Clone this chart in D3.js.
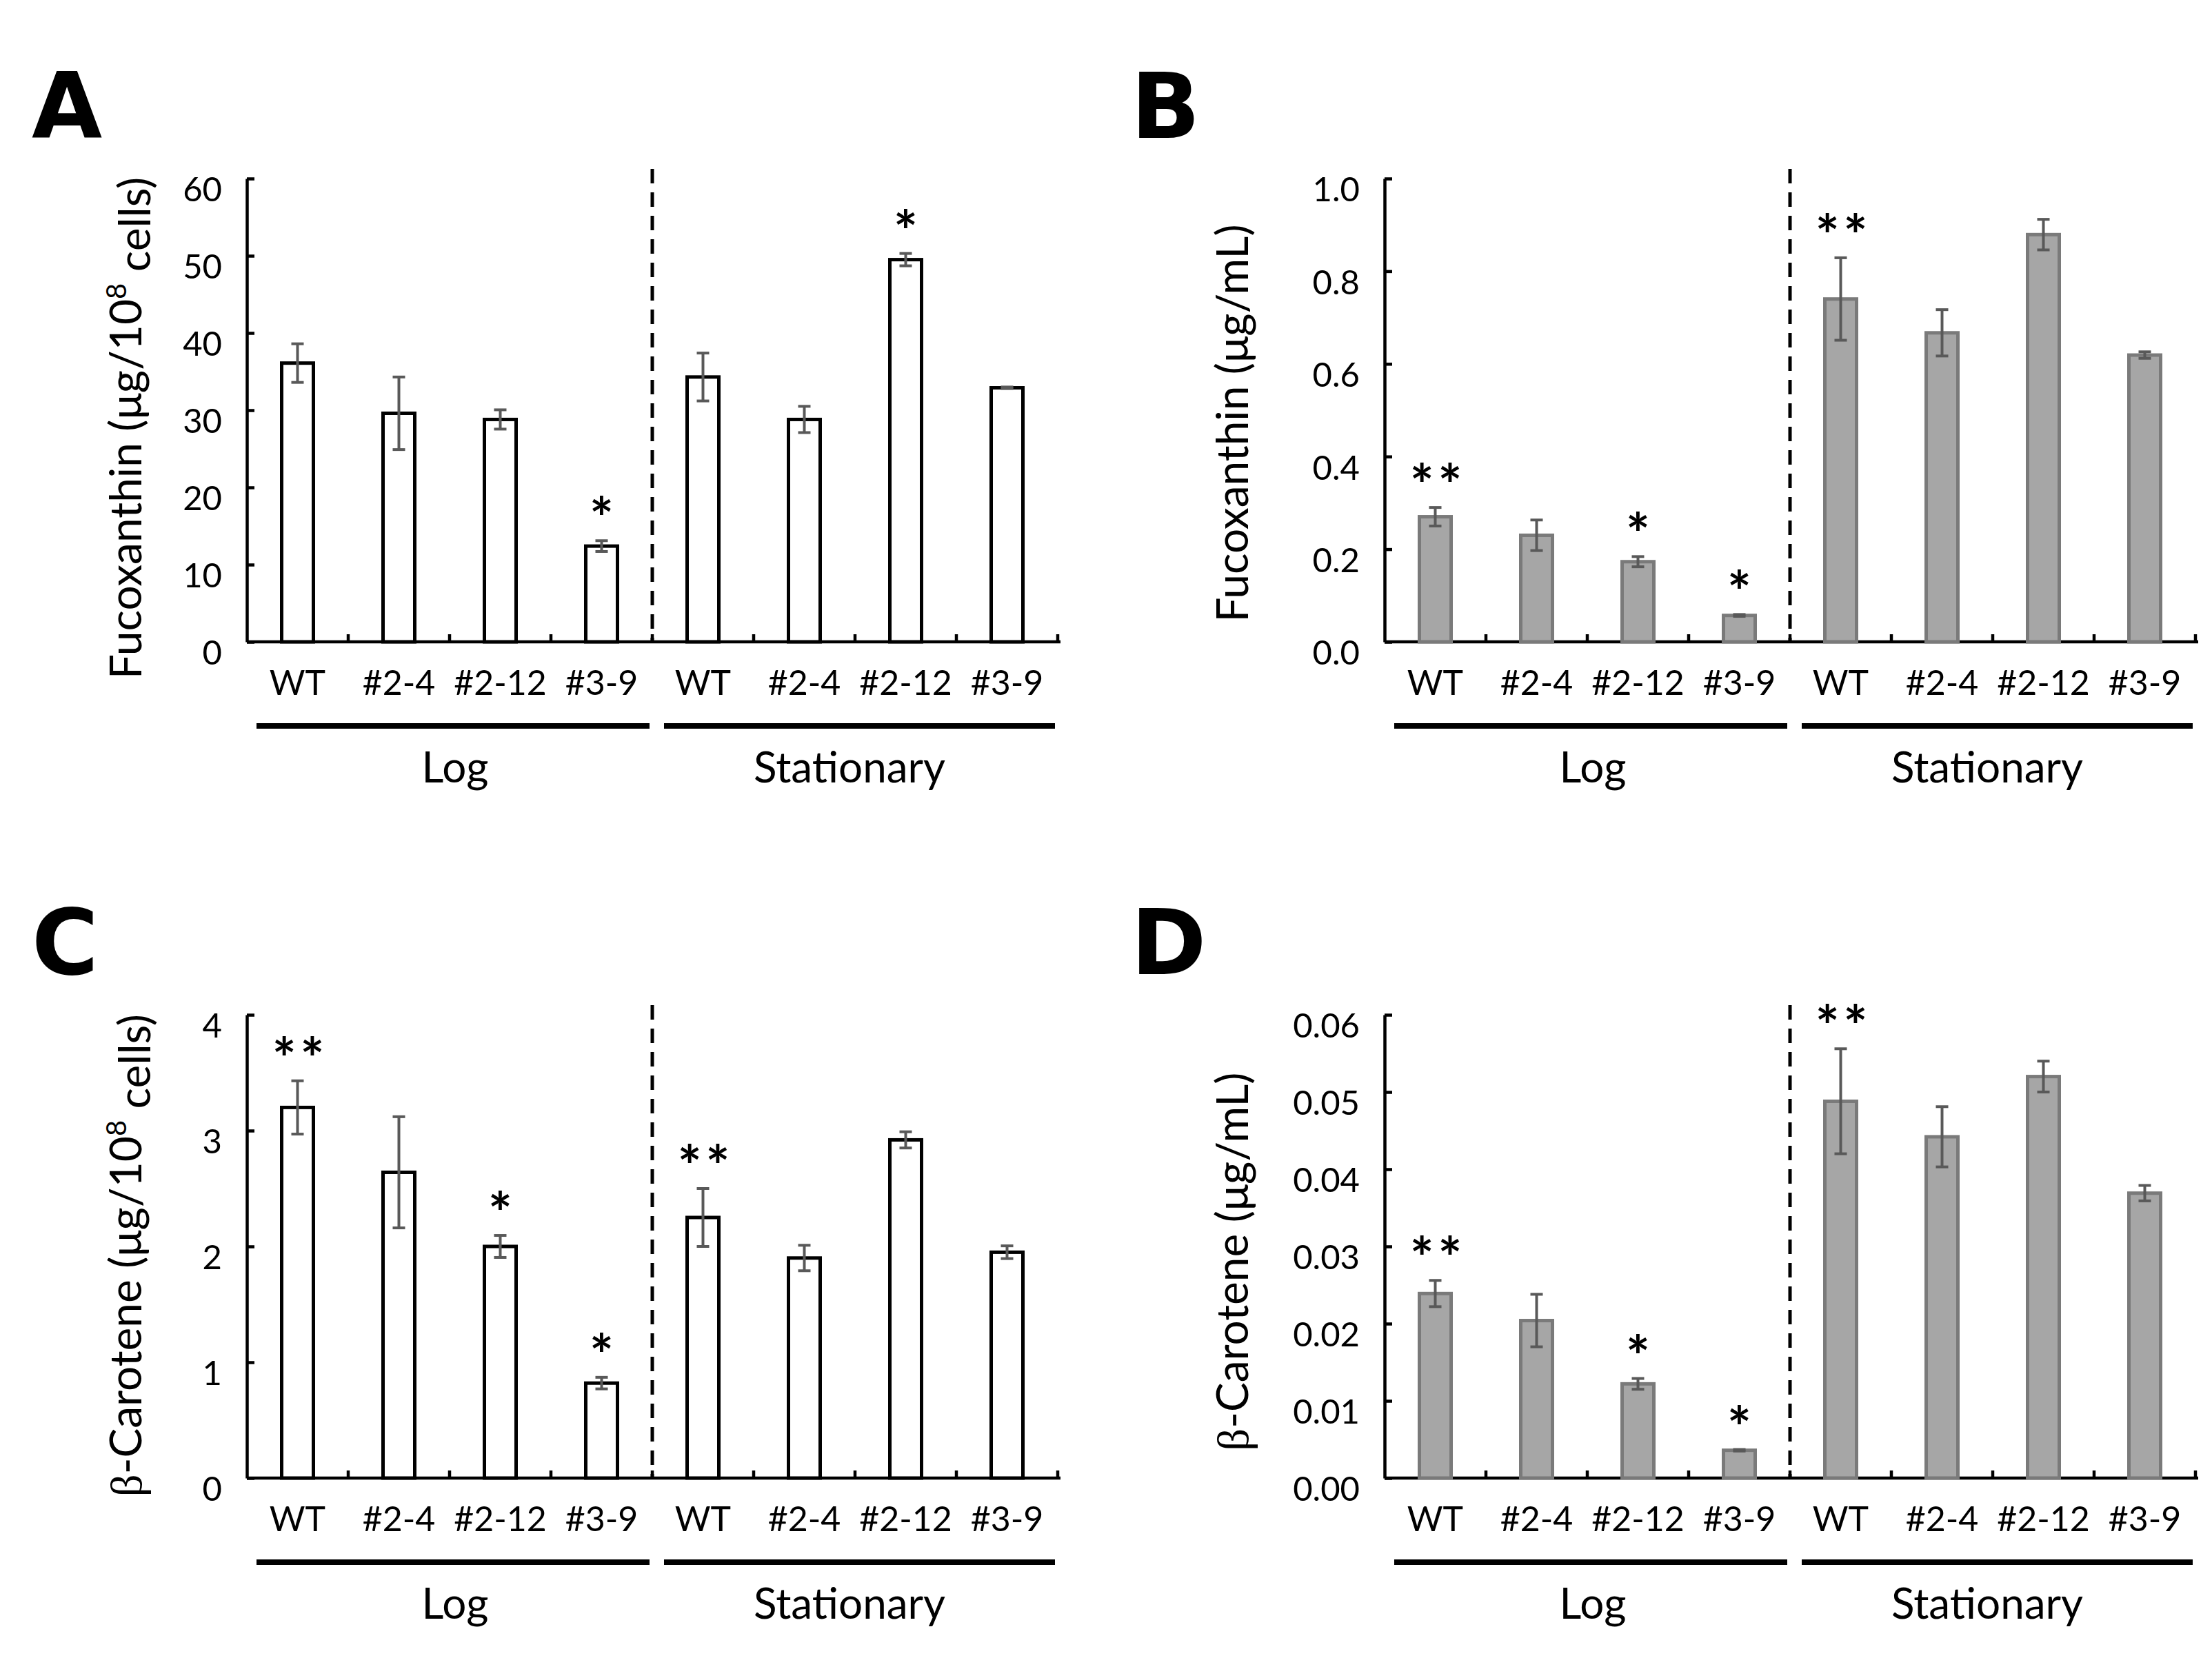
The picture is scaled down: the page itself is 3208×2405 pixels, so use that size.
<!doctype html>
<html lang="en">
<head>
<meta charset="UTF-8">
<script src="https://cdn.jsdelivr.net/npm/d3@7"></script>
<style>
  body { margin: 0; background: #fff; }
  svg { display: block; font-family: Lato, "Open Sans", sans-serif; }
  .axis path, .axis line { stroke: #000; stroke-width: 4.5; }
  .axis text { fill: #000; }
</style>
</head>
<body>
<svg id="chart"></svg>
<script>
// categories and phases
const strains = ["WT", "#2-4", "#2-12", "#3-9"];
const phases = ["Log", "Stationary"];

// A: fucoxanthin per 10^8 cells
const fucoCellsLog = [36.1, 29.6, 28.8, 12.4];
const fucoCellsLogErr = [2.5, 4.7, 1.25, 0.7];
const fucoCellsStat = [34.3, 28.8, 49.5, 32.9];
const fucoCellsStatErr = [3.1, 1.7, 0.8, 0.1];
const fucoCellsSig = ["", "", "", "*", "", "", "*", ""];

// B: fucoxanthin per mL
const fucoMlLog = [0.27, 0.23, 0.173, 0.057];
const fucoMlLogErr = [0.02, 0.033, 0.011, 0.002];
const fucoMlStat = [0.74, 0.667, 0.879, 0.619];
const fucoMlStatErr = [0.089, 0.05, 0.033, 0.007];
const fucoMlSig = ["**", "", "*", "*", "**", "", "", ""];

// C: beta-carotene per 10^8 cells
const caroCellsLog = [3.20, 2.64, 2.00, 0.82];
const caroCellsLogErr = [0.23, 0.48, 0.095, 0.05];
const caroCellsStat = [2.25, 1.90, 2.92, 1.95];
const caroCellsStatErr = [0.25, 0.11, 0.07, 0.055];
const caroCellsSig = ["**", "", "*", "*", "**", "", "", ""];

// D: beta-carotene per mL
const caroMlLog = [0.0239, 0.0204, 0.0122, 0.0036];
const caroMlLogErr = [0.0017, 0.0034, 0.0007, 0.0001];
const caroMlStat = [0.0488, 0.0442, 0.052, 0.0369];
const caroMlStatErr = [0.0068, 0.0039, 0.002, 0.001];
const caroMlSig = ["**", "", "*", "*", "**", "", "", ""];

// tick values
const ticksA = [0, 10, 20, 30, 40, 50, 60];
const ticksB = [0, 0.2, 0.4, 0.6, 0.8, 1.0];
const ticksC = [0, 1, 2, 3, 4];
const ticksD = [0, 0.01, 0.02, 0.03, 0.04, 0.05, 0.06];

const W = 3208, H = 2405;
const band = 147, plotH = 672, barW = 46;

let svg = d3.select("#chart").attr("width", W).attr("height", H);

function makeRows(logV, logE, statV, statE, sig) {
  let rows = [];
  phases.forEach(function(ph, pi) {
    strains.forEach(function(s, si) {
      rows.push({
        key: ph + "|" + s, phase: ph, strain: s,
        value: pi == 0 ? logV[si] : statV[si],
        err: pi == 0 ? logE[si] : statE[si],
        sig: sig[pi * 4 + si]
      });
    });
  });
  return rows;
}

const panels = [
  { letter: "A", letterX: 46, x0: 358, zero: 931, yMax: 60, ticks: ticksA, fmt: d3.format("d"),
    rows: makeRows(fucoCellsLog, fucoCellsLogErr, fucoCellsStat, fucoCellsStatErr, fucoCellsSig),
    gray: false, pre: "Fucoxanthin", unit: "cells", labelX: 205, labelY: 621 },
  { letter: "B", letterX: 1640, x0: 2008, zero: 931, yMax: 1.0, ticks: ticksB, fmt: d3.format(".1f"),
    rows: makeRows(fucoMlLog, fucoMlLogErr, fucoMlStat, fucoMlStatErr, fucoMlSig),
    gray: true, pre: "Fucoxanthin", unit: "mL", labelX: 1810, labelY: 614 },
  { letter: "C", letterX: 46, x0: 358, zero: 2144, yMax: 4, ticks: ticksC, fmt: d3.format("d"),
    rows: makeRows(caroCellsLog, caroCellsLogErr, caroCellsStat, caroCellsStatErr, caroCellsSig),
    gray: false, pre: "beta", unit: "cells", labelX: 205, labelY: 1821 },
  { letter: "D", letterX: 1640, x0: 2008, zero: 2144, yMax: 0.06, ticks: ticksD, fmt: d3.format(".2f"),
    rows: makeRows(caroMlLog, caroMlLogErr, caroMlStat, caroMlStatErr, caroMlSig),
    gray: true, pre: "beta", unit: "mL", labelX: 1810, labelY: 1830 }
];

function drawPanel(p) {
  let g = svg.append("g");
  let x1 = p.x0 + band * 8;
  let x = d3.scaleBand().domain(p.rows.map(d => d.key)).range([p.x0, x1]);
  let y = d3.scaleLinear().domain([0, p.yMax]).range([p.zero, p.zero - plotH]);

  // panel letter
  g.append("text")
    .attr("x", p.letterX).attr("y", p.zero - 731)
    .style("font-family", "'DejaVu Sans', sans-serif")
    .style("font-weight", "bold").style("font-size", "132px")
    .text(p.letter);

  // y axis
  let yAxis = d3.axisLeft(y).tickValues(p.ticks).tickFormat(p.fmt)
    .tickSizeInner(-11).tickSizeOuter(0).tickPadding(36);
  let ya = g.append("g").attr("class", "axis")
    .attr("transform", "translate(" + p.x0 + ",0)").call(yAxis)
    .attr("font-family", null).attr("font-size", null);
  ya.selectAll("text").style("font-size", "49px").attr("dy", "0.67em");

  // x axis with strain labels under each bar
  let xAxis = d3.axisBottom(x).tickSize(0).tickFormat(k => k.split("|")[1]);
  let xa = g.append("g").attr("class", "axis")
    .attr("transform", "translate(0," + p.zero + ")").call(xAxis)
    .attr("font-family", null).attr("font-size", null);
  xa.select(".domain").attr("d", "M" + p.x0 + ",0H" + (x1 + 4));
  xa.selectAll("text").style("font-size", "50px")
    .attr("y", 77).attr("dy", 0);
  // boundary ticks pointing up
  xa.selectAll(".bound").data(p.rows).enter().append("line")
    .attr("class", "bound")
    .attr("x1", d => x(d.key) + x.bandwidth()).attr("x2", d => x(d.key) + x.bandwidth())
    .attr("y1", 0).attr("y2", -11)
    .attr("stroke", "#000").attr("stroke-width", 4.5);

  // dashed separator between phases
  let midX = x(p.rows[4].key);
  g.append("line")
    .attr("x1", midX).attr("x2", midX)
    .attr("y1", p.zero - plotH - 14).attr("y2", p.zero)
    .attr("stroke", "#000").attr("stroke-width", 5)
    .attr("stroke-dasharray", "21,13");

  // bars
  g.selectAll(".bar").data(p.rows).enter().append("rect")
    .attr("class", "bar")
    .attr("x", d => x(d.key) + x.bandwidth() / 2 - barW / 2)
    .attr("width", barW)
    .attr("y", d => y(d.value))
    .attr("height", d => p.zero - y(d.value))
    .attr("fill", p.gray ? "#a6a6a6" : "#fff")
    .attr("stroke", p.gray ? "#7a7a7a" : "#000")
    .attr("stroke-width", 5);

  // error bars
  let eb = g.selectAll(".err").data(p.rows).enter().append("g")
    .attr("class", "err").attr("stroke", "#595959").attr("stroke-width", 4);
  eb.append("line")
    .attr("x1", d => x(d.key) + x.bandwidth() / 2).attr("x2", d => x(d.key) + x.bandwidth() / 2)
    .attr("y1", d => y(d.value + d.err)).attr("y2", d => y(d.value - d.err));
  eb.append("line")
    .attr("x1", d => x(d.key) + x.bandwidth() / 2 - 9).attr("x2", d => x(d.key) + x.bandwidth() / 2 + 9)
    .attr("y1", d => y(d.value + d.err)).attr("y2", d => y(d.value + d.err));
  eb.append("line")
    .attr("x1", d => x(d.key) + x.bandwidth() / 2 - 9).attr("x2", d => x(d.key) + x.bandwidth() / 2 + 9)
    .attr("y1", d => y(d.value - d.err)).attr("y2", d => y(d.value - d.err));

  // significance marks
  g.selectAll(".sig").data(p.rows.filter(d => d.sig)).enter().append("text")
    .attr("class", "sig")
    .attr("x", d => x(d.key) + x.bandwidth() / 2 + (d.sig.length > 1 ? 4 : 0))
    .attr("y", d => y(d.value + d.err) - 2)
    .attr("text-anchor", "middle")
    .style("font-size", "82px").style("font-weight", "bold")
    .style("letter-spacing", d => d.sig.length > 1 ? "6px" : null)
    .text(d => d.sig);

  // phase lines and labels
  let logMid = (p.x0 + midX) / 2, statMid = (midX + x1) / 2;
  g.append("line").attr("x1", p.x0 + 14).attr("x2", midX - 4)
    .attr("y1", p.zero + 122).attr("y2", p.zero + 122)
    .attr("stroke", "#000").attr("stroke-width", 8);
  g.append("line").attr("x1", midX + 17).attr("x2", x1 - 4)
    .attr("y1", p.zero + 122).attr("y2", p.zero + 122)
    .attr("stroke", "#000").attr("stroke-width", 8);
  g.append("text").attr("x", logMid + 8).attr("y", p.zero + 204)
    .attr("text-anchor", "middle").style("font-size", "62px").text(phases[0]);
  g.append("text").attr("x", statMid - 8).attr("y", p.zero + 204)
    .attr("text-anchor", "middle").style("font-size", "62px").text(phases[1]);

  // y axis title
  let t = g.append("text")
    .attr("transform", "translate(" + p.labelX + "," + p.labelY + ") rotate(-90)")
    .attr("text-anchor", "middle").style("font-size", "64px");
  if (p.pre == "beta") {
    t.append("tspan").style("font-family", "'Liberation Serif', serif").text("\u03B2");
    t.append("tspan").text("-Carotene (\u03BCg/");
  } else {
    t.append("tspan").text(p.pre + " (\u03BCg/");
  }
  if (p.unit == "cells") {
    t.append("tspan").text("10");
    t.append("tspan").attr("dy", "-0.55em").style("font-size", "40px").text("8");
    t.append("tspan").attr("dy", "0.55em").text(" cells)");
  } else {
    t.append("tspan").text("mL)");
  }
}

panels.forEach(drawPanel);
</script>
</body>
</html>
